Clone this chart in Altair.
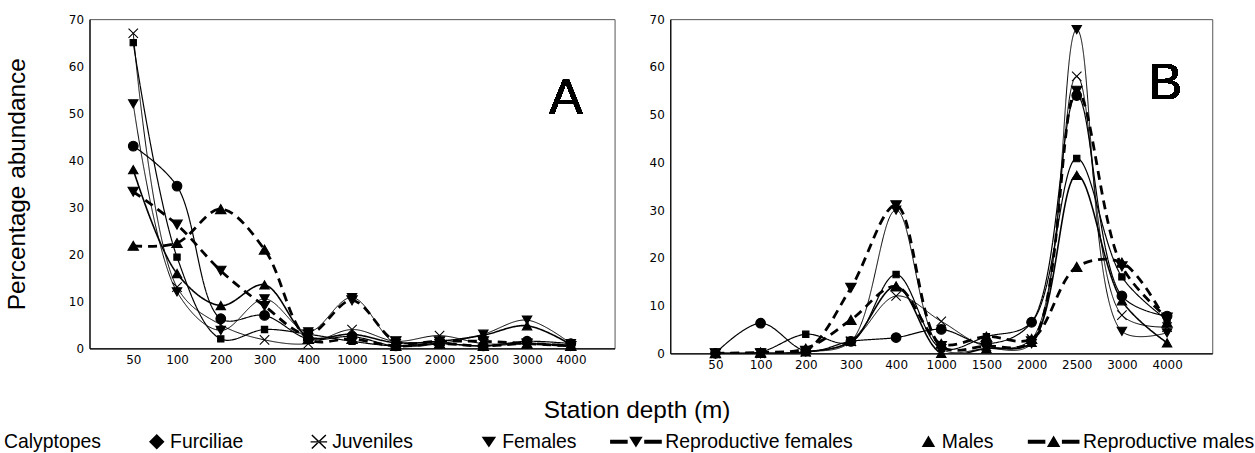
import altair as alt
import pandas as pd

# ---------------- data ----------------
depths = ["50", "100", "200", "300", "400", "1000", "1500", "2000", "2500", "3000", "4000"]
series = ["Calyptopes", "Furciliae", "Juveniles", "Females",
          "Reproductive females", "Males", "Reproductive males"]

# Panel A
a_calyptopes = [65, 19.4, 2, 4, 3, 1.5, 0.5, 1, 0.5, 1, 0.5]
a_furciliae = [43, 34.5, 6.3, 7, 2, 2.5, 0.5, 1, 0.5, 1.5, 1]
a_juveniles = [67, 13, 5, 1.8, 1, 4, 1.5, 2.7, 1, 1, 0.5]
a_females = [52, 12, 3.8, 10.5, 3.5, 10.8, 1, 1, 3, 6, 1]
a_rep_females = [33.3, 26.3, 16.5, 9, 3, 10.2, 1.5, 1.5, 1.5, 1, 0.5]
a_males = [38, 15.9, 9.1, 13.5, 2.5, 3, 1.2, 1.5, 2.8, 4.8, 0.8]
a_rep_males = [21.8, 22.4, 29.6, 21, 2, 2, 0.5, 1, 0.5, 1, 0.5]

# Panel B
b_calyptopes = [0, 0.3, 4, 2.3, 16.5, 1, 3.5, 6.5, 40.8, 16, 7]
b_furciliae = [0, 6.3, 0.5, 2.5, 3.3, 5, 2, 6.5, 54, 12, 7.8]
b_juveniles = [0, 0, 0.3, 2.5, 12, 6.7, 1.5, 3, 58, 8, 5.5]
b_females = [0, 0, 0.3, 2.5, 30, 1, 1, 2, 67.8, 4.6, 4.3]
b_rep_females = [0, 0, 0.5, 13.7, 31, 1.5, 1.5, 2.5, 55, 18.2, 7.5]
b_males = [0, 0, 0.3, 2.5, 14, 0, 1, 2.3, 37.3, 11, 2.2]
b_rep_males = [0, 0.2, 1, 7, 14, 2, 3.5, 3, 18.1, 19, 6.4]

legend_series = ["Furciliae", "Juveniles", "Females",
                 "Reproductive females", "Males", "Reproductive males"]

# ---------------- styles ----------------
X_PATH = "M-1,-1L1,1M-1,1L1,-1"
style = {
    "Calyptopes": dict(shape="square", size=40, width=1.2, dash=[1, 0]),
    "Furciliae": dict(shape="circle", size=95, width=1.2, dash=[1, 0]),
    "Juveniles": dict(shape=X_PATH, size=90, width=1.0, dash=[1, 0]),
    "Females": dict(shape="triangle-down", size=90, width=1.0, dash=[1, 0]),
    "Reproductive females": dict(shape="triangle-down", size=110, width=2.8, dash=[9, 6]),
    "Males": dict(shape="triangle-up", size=90, width=1.6, dash=[1, 0]),
    "Reproductive males": dict(shape="triangle-up", size=110, width=2.8, dash=[9, 6]),
}

DASHES = "M-1,-0.075H-0.32V0.075H-1Z M0.32,-0.075H1V0.075H0.32Z "
ASTER = ("M0.33,-0.24L0.37,-0.28L0.91,0.24L0.87,0.28Z "
         "M0.33,0.24L0.37,0.28L0.91,-0.24L0.87,-0.28Z "
         "M0.3,-0.025H0.94V0.025H0.3Z")
legend_paths = [
    "M0.62,-0.3L0.92,0L0.62,0.3L0.32,0Z",
    ASTER,
    "M0.34,-0.2L0.9,-0.2L0.62,0.22Z",
    DASHES + "M-0.26,-0.2H0.26L0,0.22Z",
    "M0.36,0.2L0.88,0.2L0.62,-0.24Z",
    DASHES + "M-0.26,0.2H0.26L0,-0.24Z",
]

FONT = "Liberation Sans"
TICKFONT = "DejaVu Sans"


def long_df(arrays):
    rows = []
    for s, vals in zip(series, arrays):
        for d, v in zip(depths, vals):
            rows.append({"series": s, "depth": d, "value": v})
    return pd.DataFrame(rows)


def panel(arrays, w, h, letter, lx, ly, ytitle):
    df = long_df(arrays)
    x = alt.X("depth:O", scale=alt.Scale(type="point", domain=depths, padding=1),
              axis=alt.Axis(title=None, labelAngle=0, ticks=False, labelPadding=6,
                            labelFont=TICKFONT, labelFontSize=12, labelColor="black",
                            domainColor="black", domainWidth=1.2, grid=False))
    yax = dict(values=list(range(0, 71, 10)), ticks=False, labelPadding=6,
               labelFont=TICKFONT, labelFontSize=12, labelColor="black",
               domainColor="black", domainWidth=1.2, grid=False)
    if ytitle:
        yax.update(title=ytitle, titleFont=FONT, titleFontSize=24.5, titleFontWeight="normal",
                   titleColor="black", titlePadding=39.5)
    else:
        yax.update(title=None)
    y = alt.Y("value:Q", scale=alt.Scale(domain=[0, 70], nice=False), axis=alt.Axis(**yax))
    layers = []
    for s in series:
        st = style[s]
        base = alt.Chart().transform_filter(alt.datum.series == s)
        layers.append(base.mark_line(interpolate="catmull-rom", color="black",
                                     strokeWidth=st["width"], strokeDash=st["dash"],
                                     clip=True).encode(x=x, y=y))
    for s in series:
        st = style[s]
        base = alt.Chart().transform_filter(alt.datum.series == s)
        layers.append(base.mark_point(shape=st["shape"], size=st["size"], filled=True,
                                      fill="black", stroke="black", strokeWidth=1.1,
                                      opacity=1).encode(x=x, y=y))
    layers.append(alt.Chart().mark_text(text=letter, font=FONT, fontSize=51, color="black",
                                        align="center", baseline="alphabetic")
                  .encode(x=alt.value(lx), y=alt.value(ly)))
    return alt.layer(*layers, data=df).properties(
        width=w, height=h, view=alt.ViewBackground(stroke="#555", strokeWidth=1))


pa = panel([a_calyptopes, a_furciliae, a_juveniles, a_females, a_rep_females, a_males, a_rep_males],
           528, 331, "A", 479, 95, "Percentage abundance")
pb = panel([b_calyptopes, b_furciliae, b_juveniles, b_females, b_rep_females, b_males, b_rep_males],
           545, 336, "B", 498, 80, None)

top = alt.hconcat(pa, pb, spacing=33).properties(
    title=alt.TitleParams("Station depth (m)", orient="bottom", anchor="middle", dx=29,
                          font=FONT, fontSize=24.5, fontWeight="normal", color="black", offset=29))

leg_df = pd.DataFrame({"series": legend_series})
legend_chart = alt.Chart(leg_df).mark_point(filled=True, color="black", opacity=0).encode(
    shape=alt.Shape("series:N", scale=alt.Scale(domain=legend_series, range=legend_paths),
                    legend=alt.Legend(orient="none", legendX=-86, legendY=0, direction="horizontal",
                                      title="Calyptopes", titleOrient="left", titleAnchor="middle",
                                      titleBaseline="middle", titleFont=FONT, titleFontSize=19.5,
                                      titleFontWeight="normal", titleColor="black", titlePadding=13,
                                      titleLimit=300, labelFont=FONT, labelFontSize=19.5,
                                      labelColor="black", labelLimit=400, labelOffset=3,
                                      symbolSize=2704, symbolStrokeWidth=1, symbolFillColor="black",
                                      symbolStrokeColor="black", symbolOpacity=1,
                                      columnPadding=33, clipHeight=20))
).properties(width=1100, height=1)

chart = alt.vconcat(top, legend_chart, spacing=8).properties(
    padding={"left": 3, "top": 11, "right": 0, "bottom": 0}
).resolve_scale(shape="independent").resolve_legend(shape="independent").configure_view(stroke=None)

chart.save("out.html", embed_options={"renderer": "svg", "actions": False})
